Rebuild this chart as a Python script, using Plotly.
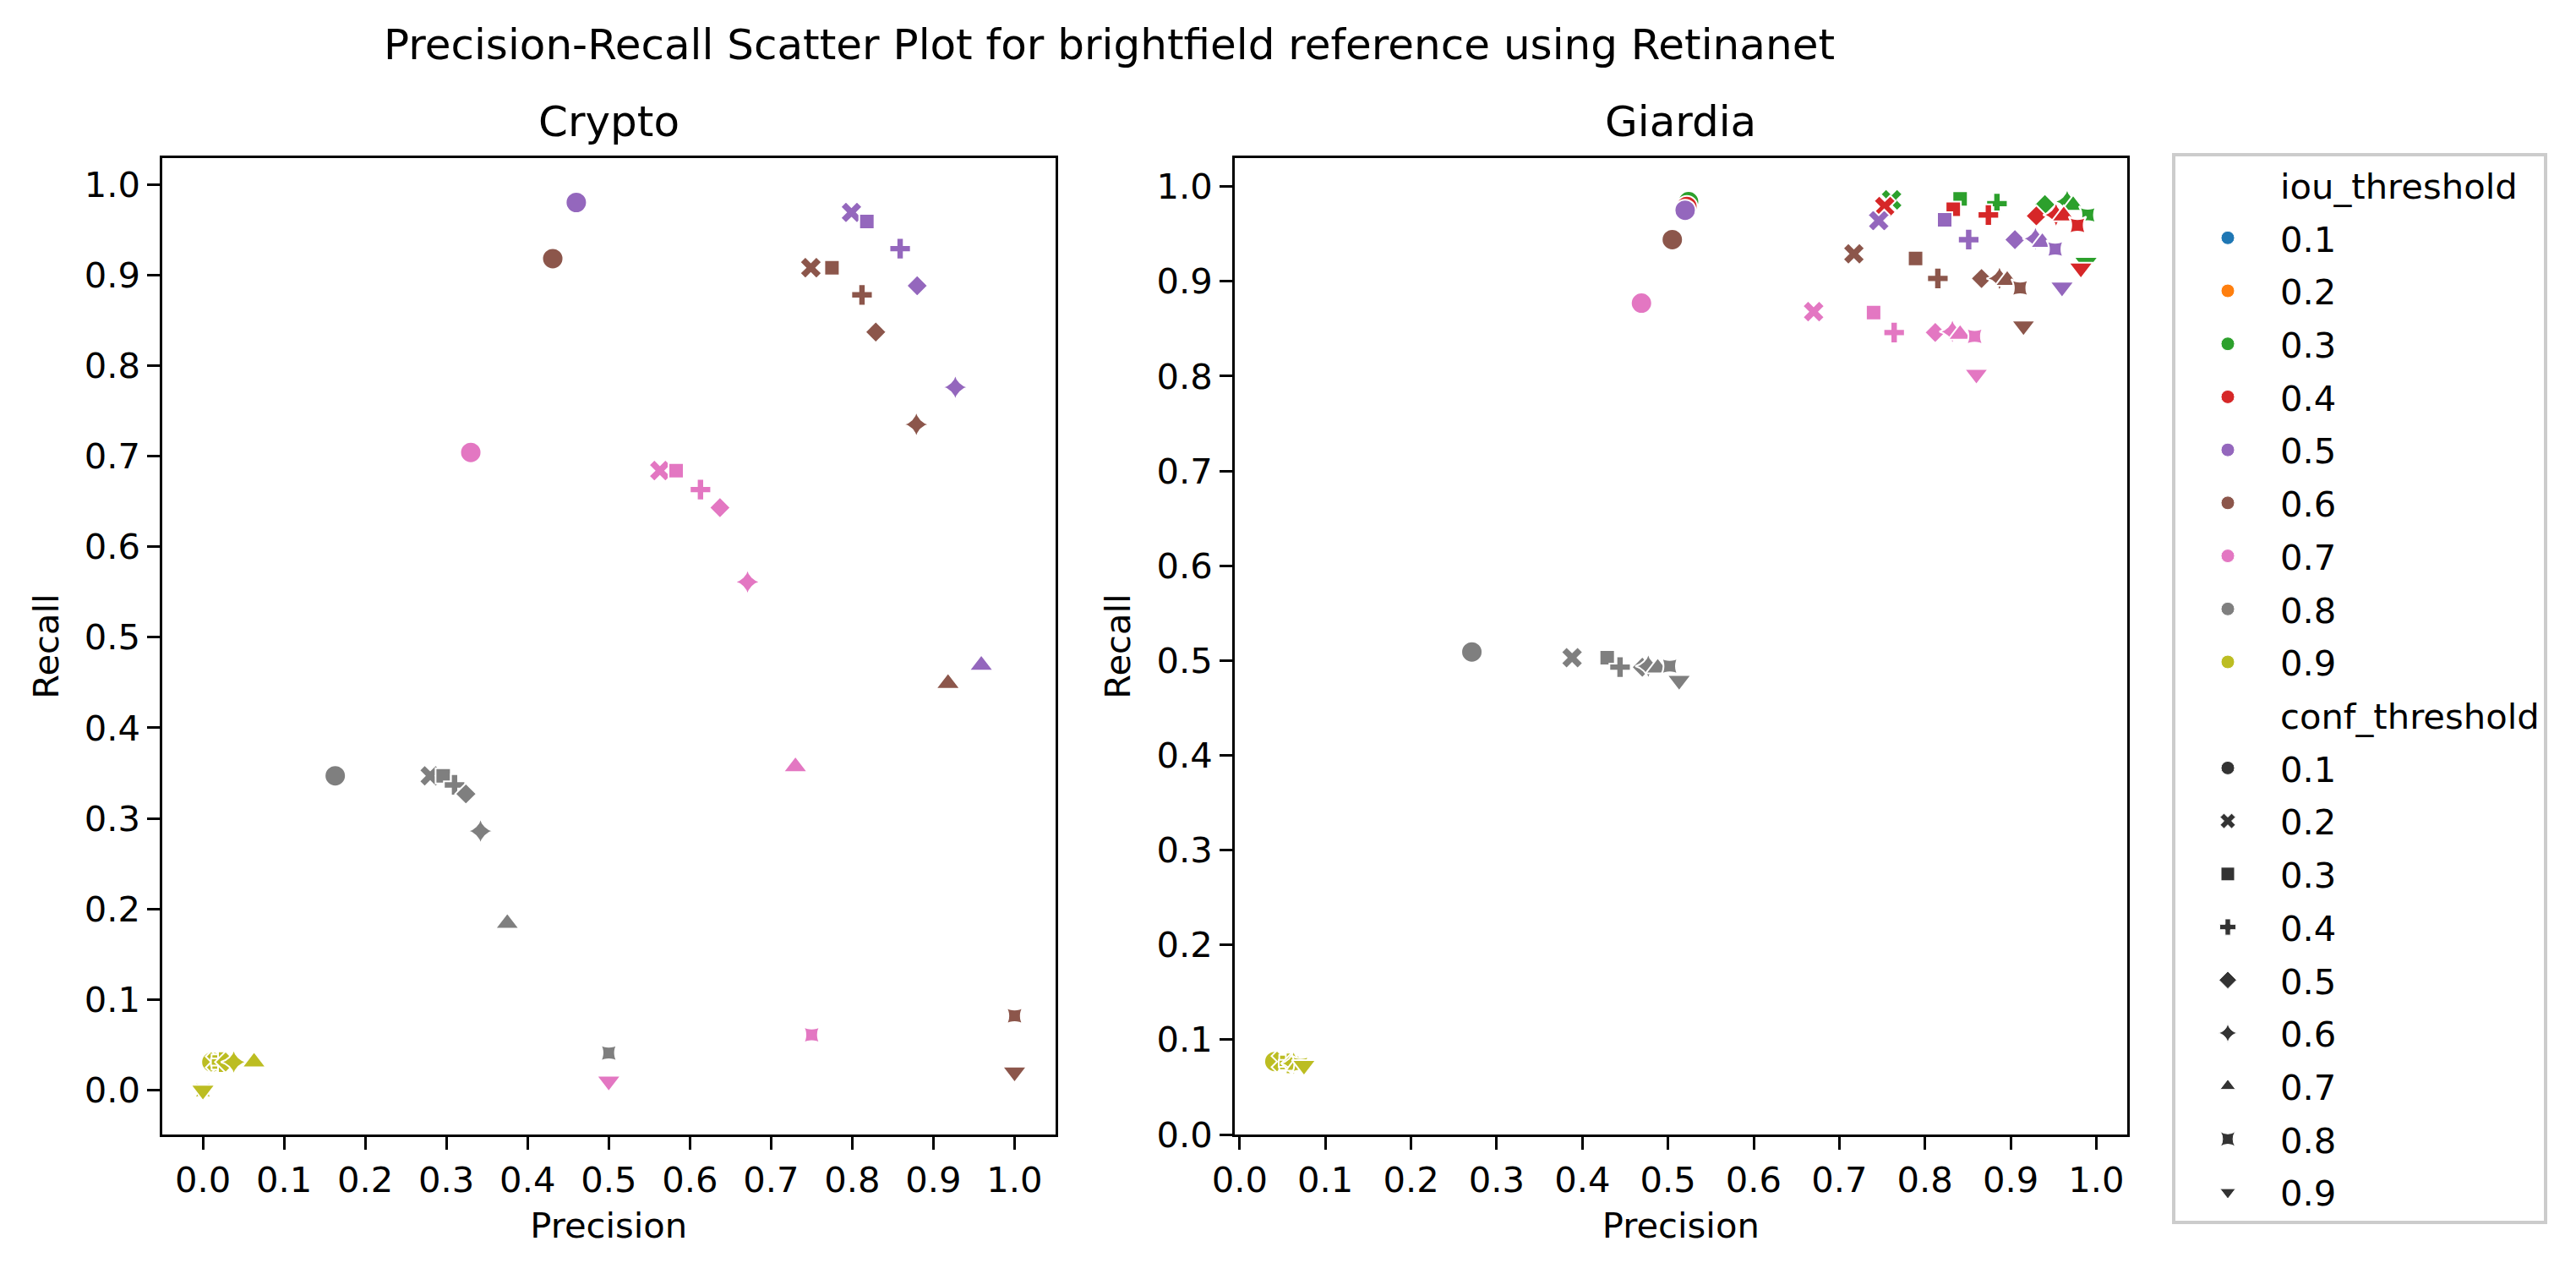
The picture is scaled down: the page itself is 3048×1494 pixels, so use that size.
import plotly.graph_objects as go

# ---------------- data ----------------
iou_levels = [0.1, 0.2, 0.3, 0.4, 0.5, 0.6, 0.7, 0.8, 0.9]
conf_levels = [0.1, 0.2, 0.3, 0.4, 0.5, 0.6, 0.7, 0.8, 0.9]

crypto_iou = [0.5] * 7 + [0.6] * 9 + [0.7] * 9 + [0.8] * 8 + [0.9] * 9
crypto_conf = ([0.1, 0.2, 0.3, 0.4, 0.5, 0.6, 0.7]
               + [0.1, 0.2, 0.3, 0.4, 0.5, 0.6, 0.7, 0.8, 0.9]
               + [0.1, 0.2, 0.3, 0.4, 0.5, 0.6, 0.7, 0.8, 0.9]
               + [0.1, 0.2, 0.3, 0.4, 0.5, 0.6, 0.7, 0.8]
               + [0.1, 0.2, 0.3, 0.4, 0.5, 0.6, 0.7, 0.8, 0.9])
crypto_precision = [0.460, 0.799, 0.818, 0.859, 0.880, 0.927, 0.959,
                    0.431, 0.749, 0.775, 0.812, 0.829, 0.879, 0.918, 1.000, 1.000,
                    0.330, 0.563, 0.583, 0.613, 0.637, 0.671, 0.730, 0.750, 0.500,
                    0.163, 0.280, 0.296, 0.310, 0.324, 0.342, 0.375, 0.500,
                    0.011, 0.017, 0.020, 0.023, 0.028, 0.038, 0.063, 0.000, 0.000]
crypto_recall = [0.980, 0.969, 0.959, 0.929, 0.888, 0.776, 0.469,
                 0.918, 0.908, 0.908, 0.878, 0.837, 0.735, 0.449, 0.082, 0.020,
                 0.704, 0.684, 0.684, 0.663, 0.643, 0.561, 0.357, 0.061, 0.010,
                 0.347, 0.347, 0.347, 0.337, 0.327, 0.286, 0.184, 0.041,
                 0.031, 0.031, 0.031, 0.031, 0.031, 0.031, 0.031, 0.000, 0.000]

giardia_iou = [0.3] * 9 + [0.4] * 9 + [0.5] * 9 + [0.6] * 9 + [0.7] * 9 + [0.8] * 9 + [0.9] * 9
giardia_conf = [0.1, 0.2, 0.3, 0.4, 0.5, 0.6, 0.7, 0.8, 0.9] * 7
giardia_precision = [0.524, 0.761, 0.841, 0.884, 0.940, 0.966, 0.973, 0.990, 0.988,
                     0.522, 0.753, 0.833, 0.874, 0.930, 0.953, 0.962, 0.978, 0.982,
                     0.520, 0.746, 0.823, 0.851, 0.905, 0.929, 0.937, 0.952, 0.960,
                     0.505, 0.717, 0.789, 0.815, 0.866, 0.887, 0.896, 0.911, 0.915,
                     0.469, 0.670, 0.740, 0.764, 0.812, 0.832, 0.841, 0.858, 0.860,
                     0.271, 0.388, 0.429, 0.444, 0.470, 0.477, 0.488, 0.502, 0.513,
                     0.041, 0.050, 0.055, 0.058, 0.061, 0.063, 0.068, 0.071, 0.075]
giardia_recall = [0.984, 0.986, 0.987, 0.982, 0.981, 0.984, 0.980, 0.970, 0.920,
                  0.979, 0.979, 0.976, 0.970, 0.969, 0.970, 0.969, 0.959, 0.914,
                  0.975, 0.964, 0.965, 0.944, 0.944, 0.945, 0.941, 0.934, 0.894,
                  0.944, 0.929, 0.924, 0.903, 0.903, 0.903, 0.901, 0.893, 0.853,
                  0.877, 0.868, 0.867, 0.846, 0.846, 0.847, 0.844, 0.842, 0.802,
                  0.509, 0.503, 0.503, 0.493, 0.493, 0.494, 0.492, 0.494, 0.479,
                  0.077, 0.077, 0.076, 0.075, 0.075, 0.075, 0.073, 0.074, 0.073]

tick_values = [0.0, 0.1, 0.2, 0.3, 0.4, 0.5, 0.6, 0.7, 0.8, 0.9, 1.0]
tick_labels = ["0.0", "0.1", "0.2", "0.3", "0.4", "0.5", "0.6", "0.7", "0.8", "0.9", "1.0"]

# ---------------- styles ----------------
iou_colors = ["#1f77b4", "#ff7f0e", "#2ca02c", "#d62728", "#9467bd",
              "#8c564b", "#e377c2", "#7f7f7f", "#bcbd22"]
conf_symbols = ["circle", "x", "square", "cross", "diamond",
                "star-diamond", "triangle-up", "star-square", "triangle-down"]
conf_sizes = [25, 23, 18, 21, 19.5, 22, 25, 19, 25]

W, H = 3048, 1494
FONT = "DejaVu Sans"
TICK_PX = 41.7
TITLE_PX = 50

fig = go.Figure()


def add_panel(iou, conf, prec, rec, xa, ya):
    for lvl, col in zip(iou_levels, iou_colors):
        idx = [i for i, v in enumerate(iou) if v == lvl]
        if not idx:
            continue
        syms = [conf_symbols[conf_levels.index(conf[i])] for i in idx]
        sizes = [conf_sizes[conf_levels.index(conf[i])] for i in idx]
        fig.add_trace(go.Scatter(
            x=[prec[i] for i in idx], y=[rec[i] for i in idx],
            mode="markers", xaxis=xa, yaxis=ya, showlegend=False,
            marker=dict(color=col, symbol=syms, size=sizes, opacity=1,
                        line=dict(color="white", width=2)),
            hoverinfo="skip"))


add_panel(crypto_iou, crypto_conf, crypto_precision, crypto_recall, "x", "y")
add_panel(giardia_iou, giardia_conf, giardia_precision, giardia_recall, "x2", "y2")

# legend entries (one legend group per row so the row gap can be set)
row = 0


def legend_entry(name, color, symbol, size):
    global row
    row += 1
    fig.add_trace(go.Scatter(x=[None], y=[None], mode="markers", name=name,
                             legendgroup=f"g{row:02d}",
                             marker=dict(color=color, symbol=symbol, size=size, opacity=1,
                                         line=dict(color="white", width=1)),
                             xaxis="x2", yaxis="y2"))


legend_entry("iou_threshold", "rgba(0,0,0,0)", "circle", 1)
for lvl, col in zip(iou_levels, iou_colors):
    legend_entry(f"{lvl:.1f}", col, "circle", 16)
legend_entry("conf_threshold", "rgba(0,0,0,0)", "circle", 1)
for lvl, sym in zip(conf_levels, conf_symbols):
    legend_entry(f"{lvl:.1f}", "#333333", sym, 16)

ydom = [1 - 1334 / H, 1 - 179 / H]
axis_common = dict(
    showline=True, linecolor="black", linewidth=3.3, mirror=True,
    ticks="outside", ticklen=14.6, tickwidth=3.3, tickcolor="black",
    showgrid=False, zeroline=False, automargin=False,
    tickvals=tick_values, ticktext=tick_labels,
    tickfont=dict(family=FONT, size=TICK_PX, color="black"),
    title_font=dict(family=FONT, size=TICK_PX, color="black"),
)

fig.update_layout(
    width=W, height=H,
    margin=dict(l=0, r=0, t=0, b=0, autoexpand=False),
    paper_bgcolor="white", plot_bgcolor="white",
    font=dict(family=FONT, size=TICK_PX, color="black"),
    xaxis=dict(domain=[184.1 / W, 1240.5 / W], range=[-0.05, 1.05], anchor="y",
               title=dict(text="Precision", standoff=17), **axis_common),
    yaxis=dict(domain=ydom, range=[-0.049, 1.029], anchor="x",
               title=dict(text="Recall", standoff=18), **axis_common),
    xaxis2=dict(domain=[1452.8 / W, 2508.9 / W], range=[-0.006, 1.036], anchor="y2",
                title=dict(text="Precision", standoff=17), **axis_common),
    yaxis2=dict(domain=ydom, range=[0.0, 1.030], anchor="x2",
                title=dict(text="Recall", standoff=18), **axis_common),
    legend=dict(x=2562 / W, y=1 - 173 / H, xanchor="left", yanchor="top",
                bgcolor="white", bordercolor="#cccccc", borderwidth=4,
                font=dict(family=FONT, size=TICK_PX, color="black"),
                itemwidth=114, tracegroupgap=5.5, traceorder="grouped"),
    annotations=[
        dict(text="Precision-Recall Scatter Plot for brightfield reference using Retinanet",
             x=1304 / W, y=1 - 76 / H, xref="paper", yref="paper",
             xanchor="center", yanchor="bottom", showarrow=False,
             font=dict(family=FONT, size=TITLE_PX, color="black")),
        dict(text="Crypto", x=(184.1 + 1240.5) / 2 / W, y=ydom[1], xref="paper", yref="paper",
             xanchor="center", yanchor="bottom", yshift=12, showarrow=False,
             font=dict(family=FONT, size=TITLE_PX, color="black")),
        dict(text="Giardia", x=(1452.8 + 2508.9) / 2 / W, y=ydom[1], xref="paper", yref="paper",
             xanchor="center", yanchor="bottom", yshift=12, showarrow=False,
             font=dict(family=FONT, size=TITLE_PX, color="black")),
    ],
)

fig.write_html("out.html")
